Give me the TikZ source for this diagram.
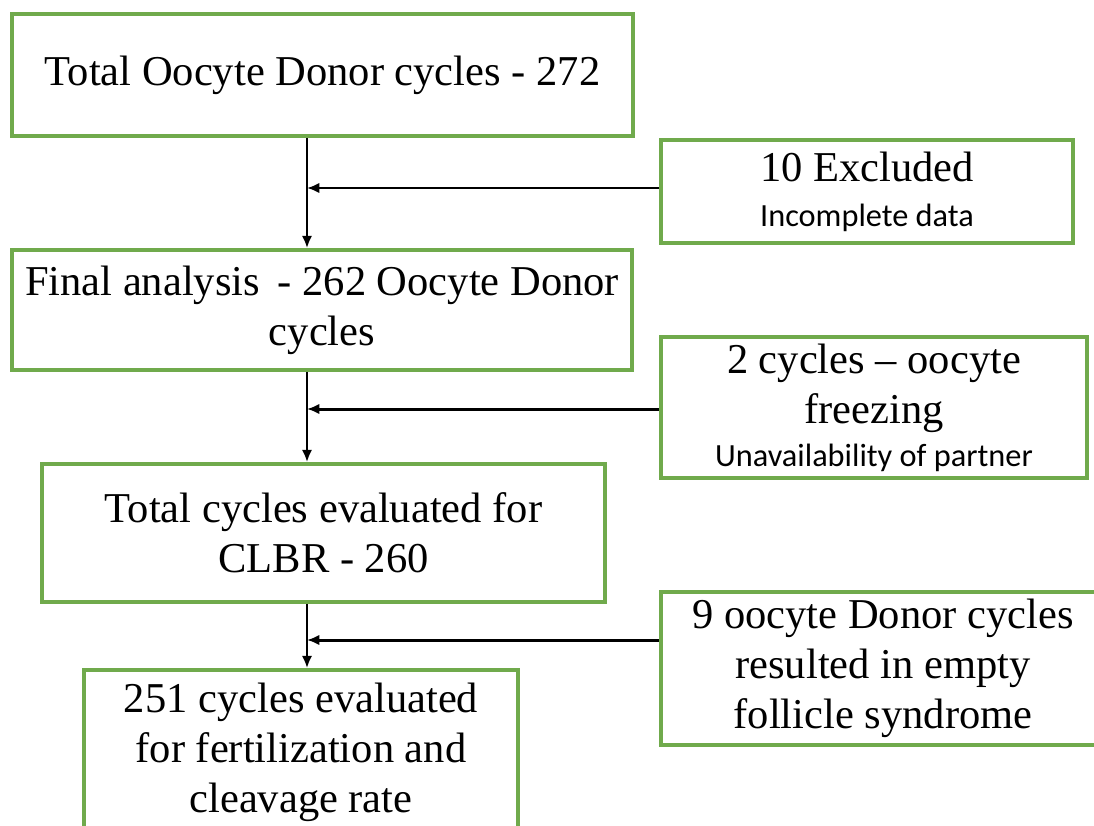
\documentclass[tikz,border=0pt]{standalone}
\usepackage{fontspec}
\setmainfont{Liberation Serif}
\newfontfamily\smallsans{Carlito}
\usetikzlibrary{positioning, arrows.meta}
\definecolor{boxgreen}{RGB}{112,170,76}
\tikzset{
  box/.style={draw=boxgreen, line width=2.2pt, align=center, inner sep=0pt,
    font=\fontsize{24.2}{28.5}\selectfont},
  flow/.style={-{Latex[length=7pt, width=6pt]}, line width=1.7pt},
}
\newcommand{\note}[1]{{\smallsans\fontsize{18.4}{21}\selectfont #1}}
\begin{document}
\begin{tikzpicture}[x=0.02cm, y=-0.02cm]

\clip (0,0) rectangle (1094,825);

\draw (322.5, 75) node[box, minimum width=12.42cm, minimum height=2.44cm] (total) {Total Oocyte Donor cycles - 272};

\draw (322, 310) node[box, minimum width=12.4cm, minimum height=2.4cm] (final) {Final analysis\, - 262 Oocyte Donor\\cycles};

\draw (323.5, 533) node[box, minimum width=11.26cm, minimum height=2.76cm] (clbr) {Total cycles evaluated for\\CLBR - 260};

\draw (301, 752) node[box, minimum width=8.68cm, minimum height=3.28cm] (fert) {251 cycles evaluated\\for fertilization and\\cleavage rate};

\draw (867, 191.5) node[box, minimum width=8.24cm, minimum height=2.06cm] (excl) {10 Excluded\\[-3pt]\note{Incomplete data}};

\draw (874, 407.5) node[box, minimum width=8.52cm, minimum height=2.82cm] (freeze) {2 cycles -- oocyte\\freezing\\[-4pt]\note{Unavailability of partner}};

\draw (883, 668.5) node[box, minimum width=8.88cm, minimum height=3.06cm] (empty) {9 oocyte Donor cycles\\resulted in empty\\follicle syndrome};

\coordinate (j1) at (307, 188);
\coordinate (j2) at (307, 409);
\coordinate (j3) at (307, 640);

\draw[flow] (total.south -| j1) -- (final.north -| j1);
\draw[flow] (final.south -| j2) -- (clbr.north -| j2);
\draw[flow] (clbr.south -| j3) -- (fert.north -| j3);

\draw[flow] (excl.west |- j1) -- (j1);
\draw[flow] (freeze.west |- j2) -- (j2);
\draw[flow] (empty.west |- j3) -- (j3);

\end{tikzpicture}
\end{document}
